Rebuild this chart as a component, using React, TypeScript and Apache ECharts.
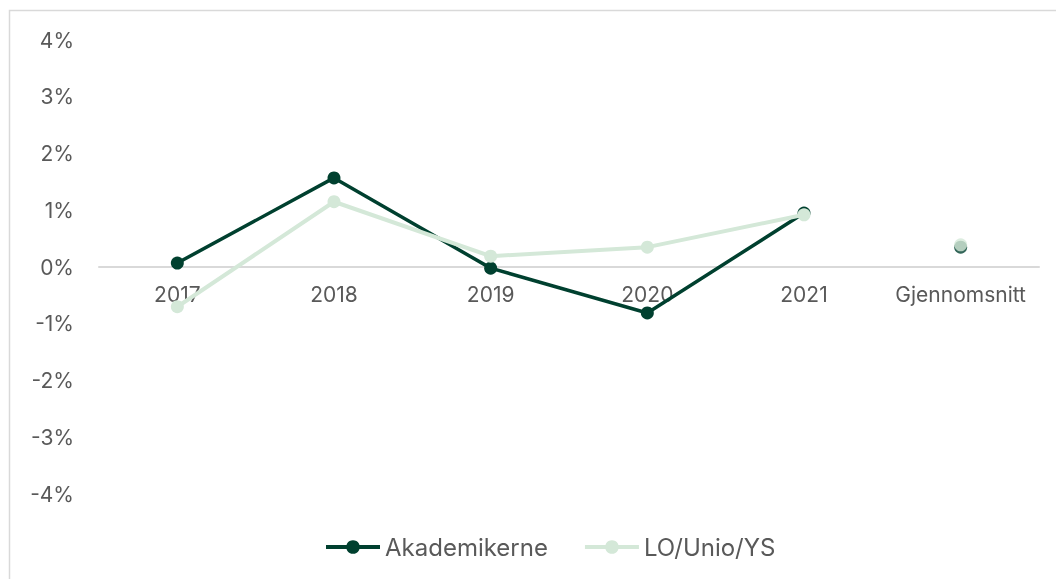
import React, { useEffect, useRef } from "react";
import * as echarts from "echarts";

const categories = ["2017", "2018", "2019", "2020", "2021", "Gjennomsnitt"];
const akademikerne = [0.07, 1.57, -0.02, -0.81, 0.95];
const akademikerneAvg = 0.35;
const loUnioYs = [-0.7, 1.15, 0.19, 0.35, 0.92];
const loUnioYsAvg = 0.39;
const yTicks = { min: -4, max: 4, interval: 1 };

const DARK = "#00402F";
const LIGHT = "#D4E8D8";
const TEXT = "#595959";
const FONT = "Inter";

export default function App() {
  const ref = useRef<HTMLDivElement>(null);
  useEffect(() => {
    if (!ref.current) return;
    const chart = echarts.init(ref.current, null, { renderer: "svg" });
    const pad = (arr: number[]) => [...arr, "-"];
    const avgData = (v: number) => [...categories.slice(0, -1).map(() => "-"), v];
    chart.setOption({
      animation: false,
      textStyle: { fontFamily: FONT },
      graphic: [
        {
          type: "rect",
          shape: { x: 9.5, y: 10.5, width: 1200, height: 700 },
          style: { fill: "none", stroke: "#d9d9d9", lineWidth: 1.5 },
          silent: true,
          z: -1,
        },
      ],
      grid: { left: 99, right: 17, top: 40, bottom: 85 },
      legend: {
        bottom: 15,
        left: 319,
        itemWidth: 54,
        itemHeight: 17,
        itemGap: 35,
        lineStyle: { width: 4 },
        textStyle: { color: TEXT, fontSize: 24, fontFamily: FONT },
        data: ["Akademikerne", "LO/Unio/YS"],
      },
      xAxis: {
        type: "category",
        data: categories,
        offset: -227,
        axisLine: { onZero: false, lineStyle: { color: "#d9d9d9", width: 2 } },
        axisTick: { show: false },
        axisLabel: {
          color: TEXT,
          fontSize: 21,
          margin: 17,
          interval: 0,
          hideOverlap: false,
          fontFamily: FONT,
        },
      },
      yAxis: {
        type: "value",
        min: yTicks.min,
        max: yTicks.max,
        interval: yTicks.interval,
        splitLine: { show: false },
        axisLine: { show: false },
        axisTick: { show: false },
        axisLabel: {
          color: TEXT,
          fontSize: 21,
          margin: 25,
          fontFamily: FONT,
          formatter: "{value}%",
        },
      },
      series: [
        {
          name: "Akademikerne",
          type: "line",
          data: pad(akademikerne),
          symbol: "circle",
          symbolSize: 13,
          lineStyle: { color: DARK, width: 3.5 },
          itemStyle: { color: DARK },
          z: 2,
        },
        {
          name: "LO/Unio/YS",
          type: "line",
          data: pad(loUnioYs),
          symbol: "circle",
          symbolSize: 13,
          lineStyle: { color: LIGHT, width: 4 },
          itemStyle: { color: LIGHT },
          z: 3,
        },
        {
          name: "Akademikerne",
          type: "scatter",
          data: avgData(akademikerneAvg),
          symbolSize: 13,
          itemStyle: { color: DARK },
          z: 3,
        },
        {
          name: "LO/Unio/YS",
          type: "scatter",
          data: avgData(loUnioYsAvg),
          symbolSize: 13,
          itemStyle: { color: LIGHT },
          z: 4,
        },
      ],
    });
    return () => chart.dispose();
  }, []);
  return (
    <div
      ref={ref}
      style={{ position: "fixed", left: 0, top: 0, width: 1056, height: 579 }}
    />
  );
}
